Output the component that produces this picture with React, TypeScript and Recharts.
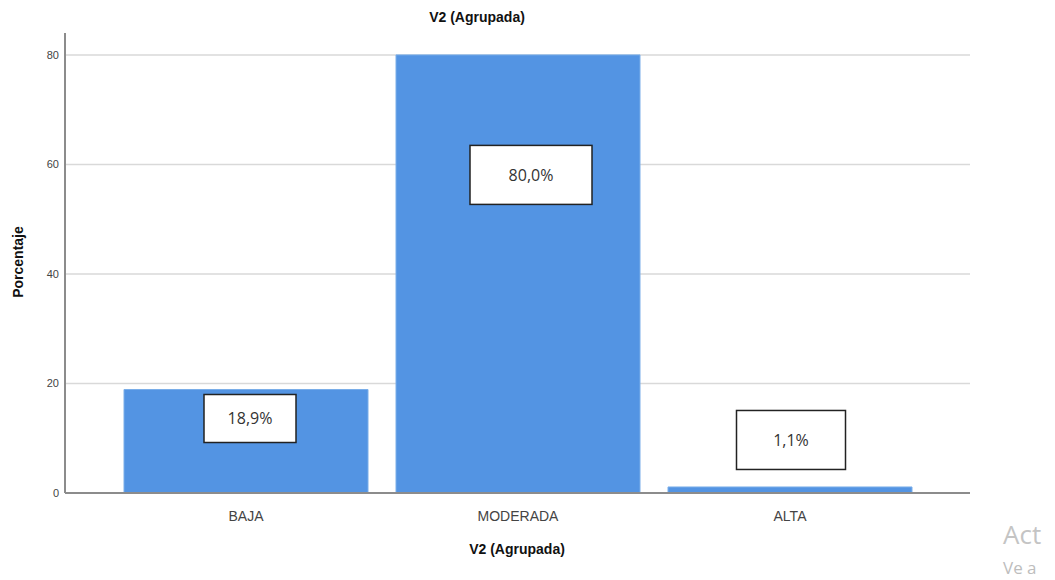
import React from 'react';
import { BarChart, Bar, XAxis, YAxis, CartesianGrid, LabelList } from 'recharts';

const categories = ['BAJA', 'MODERADA', 'ALTA'];
const percentages = [18.9, 80.0, 1.1];
const yTicks = [0, 20, 40, 60, 80];
const yMax = 84;

const data = categories.map((name, i) => ({ name, value: percentages[i] }));

// label box placement relative to bar top-centre (as SPSS placed them)
const BOXES = [
  { dx: 4, dy: 29, w: 92, h: 48 },
  { dx: 13, dy: 120, w: 122, h: 59 },
  { dx: 1, dy: -47, w: 109, h: 59 },
];

function BoxLabel(props: any) {
  const { x, y, width, index, value } = props;
  const b = BOXES[index] || BOXES[0];
  const cx = x + width / 2 + b.dx;
  const cy = y + b.dy;
  const text = Number(value).toFixed(1).replace('.', ',') + '%';
  return (
    <g>
      <rect x={cx - b.w / 2} y={cy - b.h / 2} width={b.w} height={b.h} fill="#fff" stroke="#222" strokeWidth={1.5} />
      <text x={cx} y={cy} dy="0.35em" textAnchor="middle" fontFamily="'Open Sans', 'Noto Sans', sans-serif" fontSize={16} fill="#333">
        {text}
      </text>
    </g>
  );
}

// only grid lines at the tick values (no line at the top edge)
function gridRows(p: any) {
  const s = p?.yAxis?.scale;
  if (typeof s === 'function') return yTicks.map((t) => s(t));
  const top = p?.offset?.top ?? 33;
  const h = p?.offset?.height ?? 460;
  return yTicks.map((t) => top + h * (1 - t / yMax));
}

const bold: React.CSSProperties = {
  position: 'absolute',
  fontFamily: "'Liberation Sans', Arial, sans-serif",
  fontWeight: 'bold',
  fontSize: 14,
  color: '#111',
  whiteSpace: 'nowrap',
};

export default function App() {
  return (
    <div style={{ position: 'absolute', left: 0, top: 0, width: 1055, height: 580, background: '#fff', overflow: 'hidden' }}>
      <BarChart
        width={1055}
        height={580}
        data={data}
        margin={{ top: 33, right: 85, left: 0, bottom: 47 }}
        barCategoryGap={14}
      >
        <CartesianGrid vertical={false} stroke="#d9d9d9" strokeWidth={1.5} horizontalCoordinatesGenerator={gridRows} />
        <XAxis
          dataKey="name"
          height={40}
          padding={{ left: 45, right: 44 }}
          tickLine={false}
          tickMargin={12}
          stroke="#8c8c8c"
          strokeWidth={2}
          tick={{ fill: '#444', fontSize: 14, fontFamily: "'Liberation Sans', Arial, sans-serif" }}
        />
        <YAxis
          width={65}
          domain={[0, yMax]}
          ticks={yTicks}
          tickLine={false}
          tickSize={0}
          tickMargin={6}
          stroke="#8c8c8c"
          strokeWidth={2}
          tick={{ fill: '#444', fontSize: 11, fontFamily: "'Liberation Sans', Arial, sans-serif" }}
        />
        <Bar dataKey="value" fill="#5394e3" stroke="#7aaee9" strokeWidth={1} isAnimationActive={false}>
          <LabelList dataKey="value" content={<BoxLabel />} />
        </Bar>
      </BarChart>
      <div style={{ ...bold, left: 477, top: 17, transform: 'translate(-50%, -50%)' }}>V2 (Agrupada)</div>
      <div style={{ ...bold, left: 517, top: 549, transform: 'translate(-50%, -50%)' }}>V2 (Agrupada)</div>
      <div style={{ ...bold, left: 18, top: 262, transform: 'translate(-50%, -50%) rotate(-90deg)' }}>Porcentaje</div>
      <div style={{ position: 'absolute', left: 1003, top: 516, fontFamily: "'Open Sans', sans-serif", fontSize: 26, color: '#c4c4c4' }}>Act</div>
      <div style={{ position: 'absolute', left: 1003, top: 556, fontFamily: "'Open Sans', sans-serif", fontSize: 17, color: '#bdbdbd' }}>Ve a</div>
    </div>
  );
}
